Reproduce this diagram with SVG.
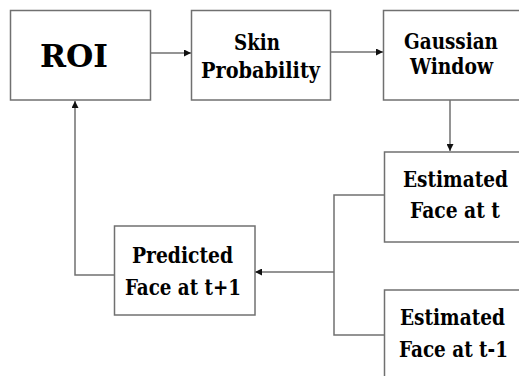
<svg xmlns="http://www.w3.org/2000/svg" width="519" height="376" viewBox="0 0 519 376">
<defs>
<style>
.box{fill:#fff;stroke:#707070;stroke-width:1.5}
.ln{fill:none;stroke:#707070;stroke-width:1.5}
.t{font-family:'DejaVu Serif Condensed','DejaVu Serif',serif;font-stretch:condensed;font-weight:bold;font-size:22px;fill:#000;text-anchor:middle}
.big{font-size:32px}
</style>
<marker id="ah" viewBox="0 0 10 10" refX="10" refY="5" markerWidth="7" markerHeight="7" markerUnits="userSpaceOnUse" orient="auto">
<path d="M0,0 L10,5 L0,10 Z" fill="#111"/>
</marker>
</defs>
<rect width="519" height="376" fill="#fff"/>
<g id="connectors">
<line class="ln" x1="151" y1="53" x2="191" y2="53" marker-end="url(#ah)"/>
<line class="ln" x1="331" y1="52" x2="383" y2="52" marker-end="url(#ah)"/>
<line class="ln" x1="450" y1="100" x2="450" y2="151" marker-end="url(#ah)"/>
<polyline class="ln" points="384,195 334,195 334,335 384,335"/>
<line class="ln" x1="334" y1="272" x2="255" y2="272" marker-end="url(#ah)"/>
<polyline class="ln" points="114,275 75,275 75,101" marker-end="url(#ah)"/>
</g>
<g id="roi">
<rect class="box" x="10.5" y="10.5" width="140" height="89.5"/>
<text class="t big" x="74" y="67" textLength="68" lengthAdjust="spacingAndGlyphs">ROI</text>
</g>
<g id="skin">
<rect class="box" x="191.5" y="10.5" width="139" height="89.5"/>
<text class="t" x="257" y="50" textLength="46" lengthAdjust="spacingAndGlyphs">Skin</text>
<text class="t" x="260.5" y="78" textLength="119" lengthAdjust="spacingAndGlyphs">Probability</text>
</g>
<g id="gaussian">
<rect class="box" x="383.5" y="10.5" width="137" height="89.5"/>
<text class="t" x="451" y="49" textLength="94" lengthAdjust="spacingAndGlyphs">Gaussian</text>
<text class="t" x="451.5" y="74" textLength="83" lengthAdjust="spacingAndGlyphs">Window</text>
</g>
<g id="face_t">
<rect class="box" x="384.5" y="152" width="136" height="90"/>
<text class="t" x="455.5" y="187" textLength="105" lengthAdjust="spacingAndGlyphs">Estimated</text>
<text class="t" x="455" y="218" textLength="90" lengthAdjust="spacingAndGlyphs">Face at t</text>
</g>
<g id="face_t1">
<rect class="box" x="384.5" y="290" width="136" height="87.5"/>
<text class="t" x="452.5" y="325" textLength="105" lengthAdjust="spacingAndGlyphs">Estimated</text>
<text class="t" x="453.5" y="357" textLength="109" lengthAdjust="spacingAndGlyphs">Face at t-1</text>
</g>
<g id="predicted">
<rect class="box" x="114.5" y="226" width="140.5" height="89"/>
<text class="t" x="182.5" y="263" textLength="101" lengthAdjust="spacingAndGlyphs">Predicted</text>
<text class="t" x="183" y="295" textLength="116" lengthAdjust="spacingAndGlyphs">Face at t+1</text>
</g>
</svg>
